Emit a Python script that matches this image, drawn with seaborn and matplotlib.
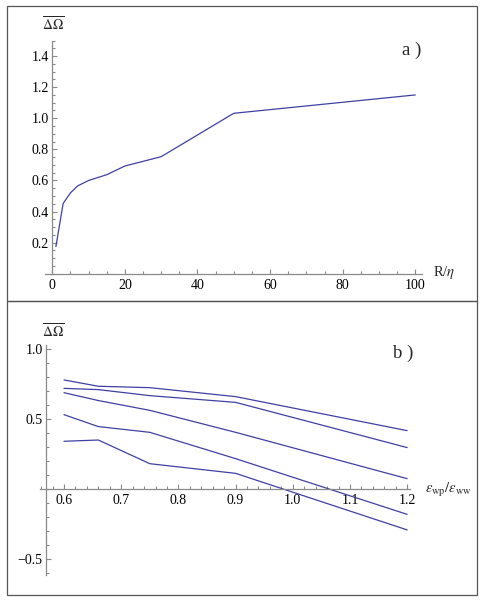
import numpy as np
import pandas as pd
import matplotlib
matplotlib.use("Agg")
import matplotlib.pyplot as plt
import seaborn as sns
from matplotlib.ticker import MultipleLocator, FixedLocator, FuncFormatter
from matplotlib.patches import Rectangle

# ---- data ----
r_eta = [1, 3, 5, 7, 10, 15, 20, 30, 50, 100]
d_omega_a = [0.175, 0.452, 0.52, 0.565, 0.60, 0.637, 0.693, 0.753, 1.032, 1.15]

eps_ratio = [0.6, 0.66, 0.75, 0.9, 1.2]
series_b1 = [0.781, 0.736, 0.726, 0.662, 0.419]
series_b2 = [0.721, 0.712, 0.669, 0.621, 0.298]
series_b3 = [0.690, 0.634, 0.564, 0.407, 0.076]
series_b4 = [0.533, 0.448, 0.407, 0.219, -0.179]
series_b5 = [0.343, 0.352, 0.183, 0.114, -0.290]

xticks_a = [0, 20, 40, 60, 80, 100]
yticks_a = [0.2, 0.4, 0.6, 0.8, 1.0, 1.2, 1.4]
xticks_b = [0.6, 0.7, 0.8, 0.9, 1.0, 1.1, 1.2]
yticks_b = [-0.5, 0.5, 1.0]

sns.set_style("white")
plt.rcParams["font.family"] = ["Liberation Serif", "DejaVu Serif"]
plt.rcParams["mathtext.fontset"] = "stix"

W, H = 485, 602
fig = plt.figure(figsize=(W / 100, H / 100), dpi=100)

LINE = "#4040a4"
AX = "#8a8a8a"
FS = 10


def px_rect(l, t, r, b):
    return [l / W, 1 - b / H, (r - l) / W, (b - t) / H]


def style(ax, ypos_x, xmaj, ymaj, xmin, ymin):
    for s in ["top", "right"]:
        ax.spines[s].set_visible(False)
    ax.spines["left"].set_position(("data", ypos_x))
    ax.spines["bottom"].set_position(("data", 0))
    for s in ["left", "bottom"]:
        ax.spines[s].set_color(AX)
        ax.spines[s].set_linewidth(0.9)
    ax.xaxis.set_major_locator(FixedLocator(xmaj))
    ax.yaxis.set_major_locator(FixedLocator(ymaj))
    ax.xaxis.set_minor_locator(MultipleLocator(xmin))
    ax.yaxis.set_minor_locator(MultipleLocator(ymin))
    ax.tick_params(which="both", direction="in", color=AX, width=0.8,
                   labelsize=FS, labelcolor="black", left=True, bottom=True)
    ax.tick_params(which="major", length=3.6)
    ax.tick_params(which="minor", length=2.0)
    ax.tick_params(axis="x", pad=3.5)
    ax.tick_params(axis="y", pad=2.5)
    ax.set_xlabel("")
    ax.set_ylabel("")
    ax.patch.set_alpha(0)


# ---- panel a ----
ax1 = fig.add_axes(px_rect(45.0, 40.5, 421.8, 273.8))
df_a = pd.DataFrame({"R": r_eta, "dO": d_omega_a})
sns.lineplot(data=df_a, x="R", y="dO", ax=ax1, color=LINE, linewidth=0.9)
ax1.set_xlim(-2, 101.8)
ax1.set_ylim(0, 1.5)
style(ax1, 0, xticks_a, yticks_a, 5, 0.05)
ax1.xaxis.set_major_formatter(FuncFormatter(lambda v, p: f"{v:.0f}"))
ax1.yaxis.set_major_formatter(FuncFormatter(lambda v, p: f"{v:.1f}"))

# ---- panel b ----
ax2 = fig.add_axes(px_rect(40.0, 345.1, 410.0, 574.7))
series = [series_b1, series_b2, series_b3, series_b4, series_b5]
df_b = pd.DataFrame({
    "eps": eps_ratio * len(series),
    "dO": sum(series, []),
    "s": sum([[i] * len(eps_ratio) for i in range(len(series))], []),
})
sns.lineplot(data=df_b, x="eps", y="dO", units="s", estimator=None, ax=ax2,
             color=LINE, linewidth=0.9)
ax2.set_xlim(0.558, 1.205)
ax2.set_ylim(-0.61, 1.03)
style(ax2, 0.5685, xticks_b, yticks_b, 0.02, 0.1)
ax2.xaxis.set_major_formatter(FuncFormatter(lambda v, p: f"{v:.1f}"))
ax2.yaxis.set_major_formatter(FuncFormatter(lambda v, p: f"{v:.1f}".replace("-", "\u2212")))


def ftext(x, y, s, size, ha="center", va="center"):
    fig.text(x / W, 1 - y / H, s, fontsize=size, ha=ha, va=va)


ftext(53, 24, r"$\overline{\Delta\Omega}$", 10)
ftext(412, 50, "a )", 13.5)
ftext(433, 273, r"R/$\eta$", 10.5, ha="left")

ftext(53, 331, r"$\overline{\Delta\Omega}$", 10)
ftext(403, 353, "b )", 13.5)
ftext(425, 490, r"$\varepsilon_{\rm wp}/\varepsilon_{\rm ww}$", 10.5, ha="left")

# frames
for (l, t, r, b) in [(7, 5.5, 476.7, 300.5), (7, 300.5, 476.7, 595)]:
    fig.add_artist(Rectangle((l / W, 1 - b / H), (r - l) / W, (b - t) / H,
                             transform=fig.transFigure, fill=False,
                             edgecolor="#555555", linewidth=0.9))

fig.savefig("out.png", dpi=100)
